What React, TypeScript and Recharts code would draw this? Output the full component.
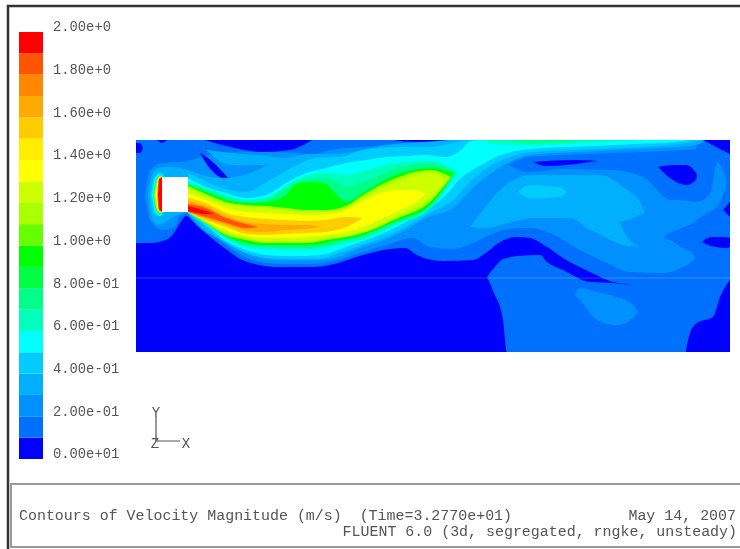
import React from "react";
import { ComposedChart, Area, XAxis, YAxis, ReferenceArea, ReferenceLine, BarChart, Bar } from "recharts";

type Row = [number, number, number];

// Legend: velocity bands (0 → 2 m/s) and tick labels
const BAND_WIDTHS = Array(20).fill(0.1);
const BAND_COLORS = ["#0000ff","#0070ff","#0090ff","#00b0ff","#00ccff","#00ffff","#00ffbb","#00ff88","#00ff44","#00ff00","#66ff00","#aaff00","#ccff00","#ffff00","#ffee00","#ffcc00","#ffaa00","#ff8800","#ff5500","#ff0000"];
const TICK_VALUES = [0,0.2,0.4,0.6,0.8,1,1.2,1.4,1.6,1.8,2];
const TICK_LABELS = ["0.00e+01","2.00e-01","4.00e-01","6.00e-01","8.00e-01","1.00e+0","1.20e+0","1.40e+0","1.60e+0","1.80e+0","2.00e+0"];

// Contour regions: [streamwise position, upper edge depth, lower edge depth]
const L1_MAIN: Row[] = [[0,0,103],[14,0,103],[30,0,100],[38,0,93],[44,0,83],[50,0,76],[60,0,85],[87,0,107],[111,0,122],[144,0,127],[177,0,127],[194,0,125],[227,0,115],[254,0,109],[269,0,108],[281,0,115],[307,0,121],[337,0,120],[351,0,112],[364,0,102],[381,0,97],[394,0,98],[411,0,107],[427,0,118],[454,0,132],[477,0,142],[497,0,145],[498,0,212],[594,0,212]];
const L1_LOWER: Row[] = [[351,137,137],[358,128,153],[367,119,180],[371,118,212],[381,116,212],[404,115,212],[411,122,212],[427,130,212],[454,142,212],[477,143,212],[498,145,212]];
const L2_MAIN: Row[] = [[9,55,55],[14,30,80],[27,23,90],[39,22,87],[44,22,74],[52,21,73],[61,18,83],[87,13,103],[111,12,118],[144,12,124],[177,14,124],[194,10,122],[227,7,112],[250,5,105],[277,3,98],[294,1,107],[317,0,109],[337,0,103],[361,0,92],[381,0,88],[394,0,88],[414,0,93],[444,0,110],[471,0,123],[494,0,132],[527,0,133],[545,0,128],[557,0,120],[560,0,115]];
const L1_HOLE: Row[] = [[372,25,25],[394,17,32],[427,15,29],[477,13,30],[507,12,37],[534,11,60],[561,9,62]];
const L1_NOTCH: Row[] = [[527,97,97],[534,93,100],[545,88,107],[557,83,114],[560,81,118]];
const L2_HOOK: Row[] = [[534,60,93],[545,60,88],[557,62,83],[561,62,80],[575,52,71],[579,30,69],[581,22,67],[585,26,60],[591,43,43]];
const L2_LOWER: Row[] = [[439,155,155],[444,148,160],[461,152,180],[481,157,185],[497,165,178],[502,172,172]];
const L3_WAVE: Row[] = [[70,10,10],[95,13,25],[130,16,25],[150,18,18]];
const D_TOP: Row[] = [[69,0,0],[94,0,7],[127,0,12],[154,0,10],[171,0,3],[176,0,0]];
const D_TOP2: Row[] = [[257,0,0],[280,0,2],[321,0,0]];
const D_LEFT: Row[] = [[0,3,13],[4,3,13],[7,8,8]];
const D_LEFT2: Row[] = [[21,0,0],[26,0,3],[31,0,0]];
const D_SLANT: Row[] = [[64,13,13],[72,18,26],[82,27,36],[94,40,40]];
const D_STREAK: Row[] = [[397,22,22],[410,21,26],[440,20,24],[462,21,21]];
const D_BLOB: Row[] = [[522,27,27],[537,25,40],[550,25,45],[560,33,40],[561,35,35]];
const D_EDGE1: Row[] = [[566,102,102],[575,97,106],[590,97,108],[594,98,107]];
const D_EDGE2: Row[] = [[587,70,70],[594,62,77]];
const D_CORNER: Row[] = [[567,0,0],[580,0,7],[594,0,14]];
const D_BOTTOM: Row[] = [[550,210,212],[554,193,212],[561,183,212],[577,177,212],[584,157,212],[594,140,212]];
const L3_BLOB: Row[] = [[334,87,87],[351,65,88],[364,50,85],[384,37,80],[394,35,78],[434,35,78],[454,35,90],[461,35,93],[481,42,103],[487,47,105],[504,62,107],[509,73,108]];
const L2_NOTCH: Row[] = [[484,82,82],[491,80,97],[504,75,107],[510,72,109]];
const L4_BLOB: Row[] = [[382,52,52],[394,45,58],[410,46,58],[425,48,56],[431,52,52]];
const L3_JET: Row[] = [[52,30,74],[70,36,92],[87,38,100],[111,34,114],[144,20,120],[177,14,120],[194,14,119],[227,10,107],[250,5,99],[270,3,90],[290,2,78],[317,0,68],[340,0,45],[360,0,30],[380,0,19],[394,0,15],[440,0,12],[480,0,10],[520,0,8],[560,0,5],[570,0,0]];
const L4_JET: Row[] = [[52,33,73],[71,42,88],[90,49,103],[110,52,113],[134,40,118],[161,25,119],[181,18,119],[204,17,113],[227,10,105],[260,7,92],[294,7,73],[317,3,60],[334,0,42],[351,0,28],[371,0,18],[394,0,12],[440,0,10],[480,0,8],[520,0,6],[550,0,3],[565,0,0]];
const L5_JET: Row[] = [[52,38,73],[70,47,85],[90,53,101],[110,58,110],[130,55,115],[150,43,116],[170,33,116],[190,28,114],[210,23,107],[230,20,100],[250,17,92],[270,16,82],[290,15,70],[310,17,55],[325,10,38],[335,1,31],[345,0,25],[365,0,15],[394,0,9],[430,0,7],[460,0,6],[500,0,4],[540,0,2],[555,0,0]];
const L6_STRIP: Row[] = [[345,0,0],[365,0,5],[394,0,5],[430,0,4],[470,0,2],[500,0,0]];
const L7_STRIP: Row[] = [[375,0,0],[394,0,3],[430,0,2],[445,0,0]];
const L6_JET: Row[] = [[52,42,72],[70,48,85],[90,55,99],[110,60,107],[130,58,109],[150,46,110],[170,36,110],[190,33,108],[210,35,103],[227,31,100],[260,23,85],[294,21,69],[322,32,32]];
const L7_JET: Row[] = [[52,43,72],[70,50,84],[90,57,97],[110,62,105],[130,60,107],[150,48,108],[170,39,108],[190,38,106],[210,46,101],[227,42,97],[260,28,83],[294,24,67],[320,32,32]];
const L8_JET: Row[] = [[52,45,72],[70,52,83],[90,60,96],[110,63,103],[130,62,105],[150,55,105],[160,44,105],[175,42,105],[190,44,103],[198,52,101],[210,62,99],[227,53,95],[260,35,81],[294,28,65],[318,33,33]];
const L9_JET: Row[] = [[52,46,72],[70,54,83],[90,62,95],[110,65,100],[130,66,103],[150,68,103],[170,70,103],[190,70,100],[210,66,97],[227,55,93],[260,38,79],[294,30,62],[315,37,37]];
const L10_JET: Row[] = [[52,48,72],[70,57,82],[90,64,93],[110,67,98],[130,68,101],[150,70,101],[170,72,101],[190,72,98],[210,68,96],[227,58,92],[260,42,77],[294,33,58],[311,40,40]];
const L11_JET: Row[] = [[52,53,72],[70,60,81],[90,68,90],[110,72,96],[130,73,98],[150,74,98],[170,75,97],[190,74,95],[210,70,92],[227,61,87],[260,50,72],[280,50,62],[290,54,54]];
const L12_JET: Row[] = [[52,58,72],[70,63,80],[90,73,87],[110,77,94],[130,79,95],[150,80,94],[170,81,93],[190,80,92],[210,77,87],[227,78,78]];
const L13_JET: Row[] = [[52,61,72],[70,66,79],[90,76,85],[110,82,91],[130,84,92],[150,85,90],[170,85,89],[185,87,87]];
const L14_JET: Row[] = [[52,64,72],[70,68,77],[90,78,83],[110,84,88],[122,87,87]];
const L15_JET: Row[] = [[52,66,71],[60,68,73],[70,71,74],[78,74,74]];
const RING_3: Row[] = [[12,55,55],[16,34,78],[22,28,85],[30,27,82],[44,28,74],[52,30,73]];
const RING_4: Row[] = [[14,55,55],[18,38,74],[24,32,76],[28,34,74]];
const RING_5: Row[] = [[16,55,55],[19,38,72],[24,34,76],[27,36,73]];
const RING_7: Row[] = [[17,55,55],[20,40,71],[24,35,75],[27,37,72]];
const RING_9: Row[] = [[18,55,55],[21,41,70],[24,36,73],[27,37,71]];
const RING_11: Row[] = [[19.5,55,55],[22,39,70],[24.5,37,72],[27,37,72]];
const RING_13: Row[] = [[21,55,55],[23,39,70],[27,37,72]];
const RING_15: Row[] = [[22,55,55],[23,39,70],[27,37,72]];

const SQUARE = { x1: 26, x2: 52, y1: 37, y2: 72 };
const SEAM_DEPTH = 138;

// paint order: [rows, band index]
const LAYERS: [Row[], number][] = [
  [L1_MAIN,1],[L1_LOWER,1],[L2_MAIN,2],[L1_HOLE,1],[L1_NOTCH,1],[L2_HOOK,2],[L2_LOWER,2],[L3_WAVE,3],
  [D_TOP,0],[D_TOP2,0],[D_LEFT,0],[D_LEFT2,0],[D_SLANT,0],[D_STREAK,0],[D_BLOB,0],[D_EDGE1,0],[D_EDGE2,0],[D_BOTTOM,0],
  [L3_BLOB,3],[L2_NOTCH,2],[L4_BLOB,4],
  [RING_3,3],[L3_JET,3],[RING_4,4],[L4_JET,4],[RING_5,5],[L5_JET,5],[L6_JET,6],[L6_STRIP,6],[L7_JET,7],[L7_STRIP,7],[RING_7,7],
  [L8_JET,9],[L9_JET,11],[RING_9,11],[L10_JET,12],[L11_JET,13],[RING_11,13],[L12_JET,15],[L13_JET,16],[RING_13,16],[L14_JET,18],[L15_JET,19],[RING_15,19],
  [D_CORNER,0],
];

const toData = (rows: Row[]) => rows.map(([u, top, bottom]) => ({ u, top, bottom }));
const mono = "'Liberation Mono', 'DejaVu Sans Mono', monospace";
const TEXT = "#555555";

const bandRow = [Object.fromEntries(BAND_WIDTHS.map((w, i) => ["b" + i, w]))];

const LegendTick = (p: any) => (
  <text x={53} y={p.y - 5.5} dy="0.35em" fontFamily={mono} fontSize={13.8} fill={TEXT}>
    {TICK_LABELS[TICK_VALUES.indexOf(p.payload.value)]}
  </text>
);

export default function App() {
  return (
    <div style={{ position: "absolute", left: 0, top: 0, width: 740, height: 549, background: "#fff", overflow: "hidden", filter: "blur(0.6px)" }}>
      <div style={{ position: "absolute", left: 0, top: 0 }}>
        <ComposedChart width={740} height={549} margin={{ left: 136, right: 10, top: 140, bottom: 197 }} data={toData(L1_MAIN)}>
          <XAxis dataKey="u" type="number" domain={[0, 594]} hide allowDataOverflow />
          <YAxis type="number" domain={[0, 212]} reversed hide allowDataOverflow />
          <ReferenceArea x1={0} x2={594} y1={0} y2={212} fill={BAND_COLORS[0]} fillOpacity={1} stroke="none" />
          {LAYERS.map(([rows, band], i) => (
            <Area
              key={i}
              data={toData(rows)}
              dataKey={(d: any) => [d.top, d.bottom]}
              type="monotone"
              stroke="none"
              fill={BAND_COLORS[band]}
              fillOpacity={1}
              dot={false}
              activeDot={false}
              isAnimationActive={false}
            />
          ))}
          <ReferenceArea {...SQUARE} fill="#ffffff" fillOpacity={1} stroke="none" />
          <ReferenceLine y={SEAM_DEPTH} stroke="#ffffff" strokeOpacity={0.22} />
        </ComposedChart>
      </div>
      <div style={{ position: "absolute", left: 0, top: 0 }}>
        <BarChart width={130} height={480} data={bandRow} margin={{ left: 19, right: 0, top: 32, bottom: 21 }} barCategoryGap={0}>
          <XAxis hide dataKey={() => "v"} />
          <YAxis orientation="right" width={87} type="number" domain={[0, 2]} ticks={TICK_VALUES} interval={0} axisLine={false} tickLine={false} tick={<LegendTick />} />
          {BAND_WIDTHS.map((_, i) => (
            <Bar key={i} dataKey={"b" + i} stackId="s" fill={BAND_COLORS[i]} isAnimationActive={false} />
          ))}
        </BarChart>
      </div>
      <svg width={740} height={549} style={{ position: "absolute", left: 0, top: 0 }}>
        <path d="M740 6H8V549" fill="none" stroke="#333" strokeWidth={2.5} />
        <path d="M740 484H11V547H740" fill="none" stroke="#999" strokeWidth={2} />
        <path d="M156 417V441H180" fill="none" stroke="#555" strokeWidth={1.2} />
        <g fontFamily={mono} fontSize={14} fill={TEXT} textAnchor="middle">
          <text x={156} y={417}>Y</text>
          <text x={155} y={448}>Z</text>
          <text x={186} y={448}>X</text>
        </g>
        <g fontFamily={mono} fontSize={14.95} fill={TEXT}>
          <text x={19} y={520} xmlSpace="preserve" style={{ whiteSpace: "pre" }}>Contours of Velocity Magnitude (m/s)  (Time=3.2770e+01)</text>
          <text x={736} y={520} textAnchor="end">May 14, 2007</text>
          <text x={737} y={536} textAnchor="end">FLUENT 6.0 (3d, segregated, rngke, unsteady)</text>
        </g>
      </svg>
    </div>
  );
}
